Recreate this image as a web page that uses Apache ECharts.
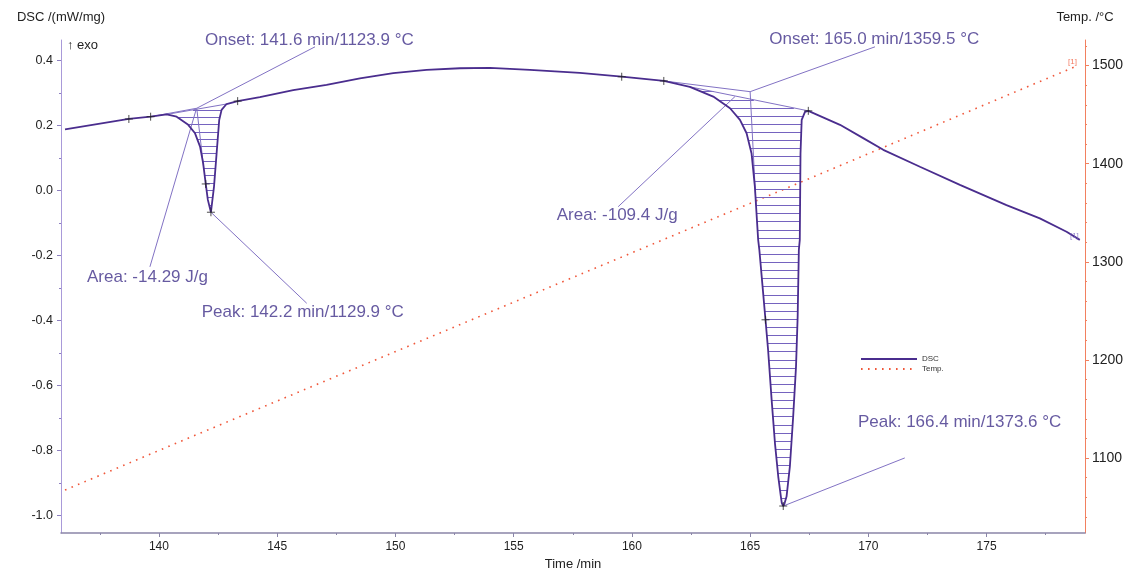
<!DOCTYPE html>
<html>
<head>
<meta charset="utf-8">
<script src="https://cdn.jsdelivr.net/npm/echarts@6/dist/echarts.min.js"></script>
<style>
  html, body { margin: 0; padding: 0; background: #ffffff; }
  #chart { width: 1133px; height: 568px; }
</style>
</head>
<body>
<div id="chart"></div>
<script>
// DSC signal: time (min) and heat flow (mW/mg)
const dscTime = [136.03, 138.73, 139.65, 140.33, 140.75, 141.24, 141.52, 141.74, 141.87, 141.98, 142.07, 142.20,
  142.33, 142.44, 142.55, 142.65, 142.86, 143.33, 144.27, 145.68, 147.09, 148.50, 149.91, 151.32, 152.73,
  154.00, 155.69, 157.80, 159.57, 161.35, 162.45, 163.44, 164.15, 164.57, 164.85, 165.06, 165.20, 165.34,
  165.39, 165.65, 165.76, 165.91, 166.05, 166.19, 166.30, 166.34, 166.40, 166.46, 166.54, 166.68, 166.82,
  166.94, 167.01, 167.06, 167.10, 167.13, 167.18, 167.32, 167.46, 168.80, 169.78, 170.63, 172.18, 173.87,
  175.84, 177.25, 178.38, 178.94];
const dscValue = [0.188, 0.220, 0.227, 0.234, 0.227, 0.202, 0.177, 0.135, 0.084, 0.020, -0.029, -0.067,
  0.012, 0.114, 0.217, 0.248, 0.266, 0.275, 0.287, 0.309, 0.325, 0.345, 0.361, 0.371, 0.376,
  0.377, 0.371, 0.362, 0.350, 0.337, 0.319, 0.289, 0.253, 0.217, 0.176, 0.114, 0.012, -0.152,
  -0.183, -0.398, -0.491, -0.645, -0.778, -0.881, -0.942, -0.962, -0.971, -0.962, -0.942, -0.850, -0.696,
  -0.542, -0.388, -0.183, -0.152, 0.114, 0.217, 0.242, 0.245, 0.202, 0.161, 0.125, 0.073, 0.017,
  -0.045, -0.086, -0.127, -0.152];

// Furnace temperature: time (min) and °C
const tempTime = [136.03, 141.6, 142.2, 165.0, 166.4, 178.86];
const tempValue = [1067.4, 1123.9, 1129.9, 1359.5, 1373.6, 1500.0];

// Evaluated effects
const onsetTime = [141.6, 165.0];
const onsetTemp = [1123.9, 1359.5];
const onsetDsc = [0.253, 0.304];
const peakTime = [142.2, 166.4];
const peakTemp = [1129.9, 1373.6];
const areaValue = [-14.29, -109.4];

// Integration limits and tangent start for each effect
const baseStart = [140.33, 162.45];
const baseEnd = [142.86, 167.46];
const tangentFrom = [139.65, 161.35];
const inflectionTo = [141.90, 165.25];

// Evaluation marks on the curve
const markTime = [138.73, 139.65, 141.98, 142.20, 143.33, 159.57, 161.35, 165.65, 166.40, 167.46];

// Axis ticks
const timeTicks = [140, 145, 150, 155, 160, 165, 170, 175];
const timeMinor = [137.5, 142.5, 147.5, 152.5, 157.5, 162.5, 167.5, 172.5, 177.5];
const dscTicks = [-1.0, -0.8, -0.6, -0.4, -0.2, 0.0, 0.2, 0.4];
const dscMinor = [-0.9, -0.7, -0.5, -0.3, -0.1, 0.1, 0.3];
const tempTicks = [1100, 1200, 1300, 1400, 1500];
const tempMinor = [1040, 1060, 1080, 1120, 1140, 1160, 1180, 1220, 1240, 1260, 1280,
  1320, 1340, 1360, 1380, 1420, 1440, 1460, 1480, 1520];

// ---- layout of the annotation texts (left end of text, vertical middle) ----
const LAYOUT = {
  onsetText: [[141.95, 0.463], [165.81, 0.465]],
  onsetLead: [[146.6, 0.442], [170.28, 0.442]],
  areaText: [[136.96, -0.266], [156.82, -0.075]],
  areaLead: [[139.62, -0.235], [159.42, -0.050]],
  areaFrom: [[141.58, 0.250], [164.36, 0.289]],
  peakText: [[141.81, -0.376], [169.56, -0.712]],
  peakLead: [[146.25, -0.347], [171.54, -0.823]],
  hatchStep: [0.0225, 0.025]
};

const FONT = '"Liberation Sans", Arial, sans-serif';
const C_DSC = '#4a2d8e';
const C_ANNO = '#8272c4';
const C_HATCH = '#7563bf';
const C_TEXT = '#40318a';
const C_TEMP = '#f0573a';

function dscAt(t) {
  if (t <= dscTime[0]) return dscValue[0];
  for (let i = 1; i < dscTime.length; i++) {
    if (t <= dscTime[i]) {
      const f = (t - dscTime[i - 1]) / (dscTime[i] - dscTime[i - 1]);
      return dscValue[i - 1] + f * (dscValue[i] - dscValue[i - 1]);
    }
  }
  return dscValue[dscValue.length - 1];
}
function baseAt(k, t) {
  const y0 = dscAt(baseStart[k]), y1 = dscAt(baseEnd[k]);
  return y0 + (t - baseStart[k]) / (baseEnd[k] - baseStart[k]) * (y1 - y0);
}

// Hatching of the integrated areas: horizontal strokes between curve and baseline
const hatch = [];
for (let k = 0; k < 2; k++) {
  const t0 = baseStart[k], t1 = baseEnd[k];
  let vmin = Infinity;
  for (let i = 0; i < dscTime.length; i++) {
    if (dscTime[i] >= t0 && dscTime[i] <= t1) vmin = Math.min(vmin, dscValue[i]);
  }
  const vmax = Math.max(dscAt(t0), dscAt(t1));
  const step = LAYOUT.hatchStep[k];
  const N = 4000;
  for (let L = vmin + step; L < vmax; L += step) {
    const inside = t => dscAt(t) < L && baseAt(k, t) > L;
    let runStart = null;
    for (let s = 0; s <= N; s++) {
      const t = t0 + (t1 - t0) * s / N;
      const ins = inside(t);
      if (ins && runStart === null) runStart = t;
      if ((!ins || s === N) && runStart !== null) {
        const tEnd = ins ? t : t - (t1 - t0) / N;
        if (tEnd > runStart) hatch.push({ coords: [[runStart, L], [tEnd, L]] });
        runStart = null;
      }
    }
  }
}

// Construction and leader lines
const annoLines = [];
for (let k = 0; k < 2; k++) {
  const onset = [onsetTime[k], onsetDsc[k]];
  annoLines.push({ coords: [[tangentFrom[k], dscAt(tangentFrom[k])], onset] });
  annoLines.push({ coords: [onset, [inflectionTo[k], dscAt(inflectionTo[k])]] });
  annoLines.push({ coords: [[baseStart[k], dscAt(baseStart[k])], [baseEnd[k], dscAt(baseEnd[k])]] });
  annoLines.push({ coords: [onset, LAYOUT.onsetLead[k]] });
  annoLines.push({ coords: [LAYOUT.areaFrom[k], LAYOUT.areaLead[k]] });
  annoLines.push({ coords: [[peakTime[k], dscAt(peakTime[k])], LAYOUT.peakLead[k]] });
}

const annoTexts = [];
for (let k = 0; k < 2; k++) {
  annoTexts.push({ value: LAYOUT.onsetText[k], name: 'Onset: ' + onsetTime[k].toFixed(1) + ' min/' + onsetTemp[k].toFixed(1) + ' °C' });
  annoTexts.push({ value: LAYOUT.areaText[k], name: 'Area: ' + areaValue[k] + ' J/g' });
  annoTexts.push({ value: LAYOUT.peakText[k], name: 'Peak: ' + peakTime[k].toFixed(1) + ' min/' + peakTemp[k].toFixed(1) + ' °C' });
}

const xMin = 135.86, xMax = 179.16;
const yMin = -1.054, yMax = 0.463;
const tMin = 1023.6, tMax = 1526.0;

const chart = echarts.init(document.getElementById('chart'), null, { renderer: 'canvas' });
chart.setOption({
  animation: false,
  backgroundColor: '#ffffff',
  textStyle: { fontFamily: FONT },
  grid: { left: 61, right: 48, top: 40, bottom: 35, containLabel: false, outerBoundsMode: 'none' },
  legend: {
    left: 855, top: 350, orient: 'vertical', itemWidth: 56, itemHeight: 8, itemGap: 2,
    selectedMode: false,
    itemStyle: { color: 'transparent', borderWidth: 0, opacity: 0 },
    textStyle: { fontSize: 8, color: '#333', fontFamily: FONT },
    data: ['DSC', 'Temp.']
  },
  graphic: [{
    type: 'text', left: 67, top: 39,
    style: { text: '↑ exo', fontSize: 13, fill: '#222', fontFamily: FONT }
  }],
  xAxis: [{
    type: 'value', min: xMin, max: xMax, position: 'bottom',
    name: 'Time /min', nameLocation: 'middle', nameGap: 20,
    nameTextStyle: { fontSize: 13, color: '#222' },
    axisLine: { show: true, onZero: false, lineStyle: { color: '#8a85a8', width: 1.5 } },
    axisTick: { show: true, length: 4, customValues: timeTicks, lineStyle: { color: '#8a85a8' } },
    axisLabel: { customValues: timeTicks, fontSize: 12, color: '#222', margin: 8, formatter: v => String(v) },
    splitLine: { show: false }
  }, {
    type: 'value', min: xMin, max: xMax, position: 'bottom',
    axisLine: { show: false, onZero: false },
    axisTick: { show: true, length: 2, customValues: timeMinor, lineStyle: { color: '#8a85a8' } },
    axisLabel: { show: false },
    splitLine: { show: false }
  }],
  yAxis: [{
    type: 'value', min: yMin, max: yMax, position: 'left',
    name: 'DSC /(mW/mg)', nameLocation: 'end', nameGap: 16,
    nameTextStyle: { fontSize: 13, color: '#222', align: 'center' },
    axisLine: { show: true, onZero: false, lineStyle: { color: '#a99ad9', width: 1 } },
    axisTick: { show: true, length: 4, customValues: dscTicks, lineStyle: { color: '#8d80c0' } },
    axisLabel: { customValues: dscTicks, fontSize: 12.5, color: '#222', margin: 8, formatter: v => v.toFixed(1) },
    splitLine: { show: false }
  }, {
    type: 'value', min: tMin, max: tMax, position: 'right',
    name: 'Temp. /°C', nameLocation: 'end', nameGap: 16,
    nameTextStyle: { fontSize: 13, color: '#222', align: 'center' },
    axisLine: { show: true, onZero: false, lineStyle: { color: '#f2805f', width: 1 } },
    axisTick: { show: true, length: 4, customValues: tempTicks, lineStyle: { color: '#f2805f' } },
    axisLabel: { customValues: tempTicks, fontSize: 14, color: '#222', margin: 7, formatter: v => String(v) },
    splitLine: { show: false }
  }, {
    type: 'value', min: yMin, max: yMax, position: 'left',
    axisLine: { show: false, onZero: false },
    axisTick: { show: true, length: 2, customValues: dscMinor, lineStyle: { color: '#8d80c0' } },
    axisLabel: { show: false }, splitLine: { show: false }
  }, {
    type: 'value', min: tMin, max: tMax, position: 'right',
    axisLine: { show: false, onZero: false },
    axisTick: { show: true, length: 2, customValues: tempMinor, lineStyle: { color: '#f2805f' } },
    axisLabel: { show: false }, splitLine: { show: false }
  }],
  series: [{
    name: 'Temp.', type: 'line', xAxisIndex: 0, yAxisIndex: 1,
    data: tempTime.map((t, i) => [t, tempValue[i]]),
    symbol: 'none', silent: true,
    lineStyle: { color: C_TEMP, width: 1.6, type: [1.6, 5.4] },
    itemStyle: { color: C_TEMP },
    z: 2
  }, {
    type: 'lines', coordinateSystem: 'cartesian2d', xAxisIndex: 0, yAxisIndex: 0,
    data: hatch, silent: true,
    itemStyle: { color: C_HATCH },
    lineStyle: { color: C_HATCH, width: 1, opacity: 1 },
    z: 3
  }, {
    type: 'lines', coordinateSystem: 'cartesian2d', xAxisIndex: 0, yAxisIndex: 0,
    data: annoLines, silent: true,
    itemStyle: { color: C_ANNO },
    lineStyle: { color: C_ANNO, width: 1, opacity: 1 },
    z: 4
  }, {
    name: 'DSC', type: 'line', xAxisIndex: 0, yAxisIndex: 0,
    data: dscTime.map((t, i) => [t, dscValue[i]]),
    symbol: 'none', silent: true,
    lineStyle: { color: C_DSC, width: 1.8 },
    itemStyle: { color: C_DSC },
    z: 5
  }, {
    type: 'scatter', xAxisIndex: 0, yAxisIndex: 0,
    data: markTime.map(t => [t, dscAt(t)]),
    symbol: 'path://M0,5L10,5M5,0L5,10', symbolSize: 8, silent: true,
    itemStyle: { color: 'none', borderColor: '#222', borderWidth: 1 },
    z: 6
  }, {
    type: 'scatter', xAxisIndex: 0, yAxisIndex: 0, clip: false,
    data: annoTexts, symbolSize: 0, silent: true,
    label: { show: true, position: 'right', distance: 0, formatter: '{b}', fontSize: 17, color: C_TEXT, fontFamily: FONT },
    z: 7
  }, {
    type: 'scatter', xAxisIndex: 0, yAxisIndex: 0, clip: false,
    data: [[dscTime[dscTime.length - 1], dscValue[dscValue.length - 1]]], symbolSize: 0, silent: true,
    label: { show: true, position: 'left', distance: 1, offset: [0, -4], formatter: '[1]', fontSize: 8, color: '#7a68c0' },
    z: 7
  }, {
    type: 'scatter', xAxisIndex: 0, yAxisIndex: 1, clip: false,
    data: [[tempTime[tempTime.length - 1], tempValue[tempValue.length - 1]]], symbolSize: 0, silent: true,
    label: { show: true, position: 'left', distance: 1, offset: [0, -4], formatter: '[1]', fontSize: 8, color: C_TEMP },
    z: 7
  }]
});
</script>
</body>
</html>
